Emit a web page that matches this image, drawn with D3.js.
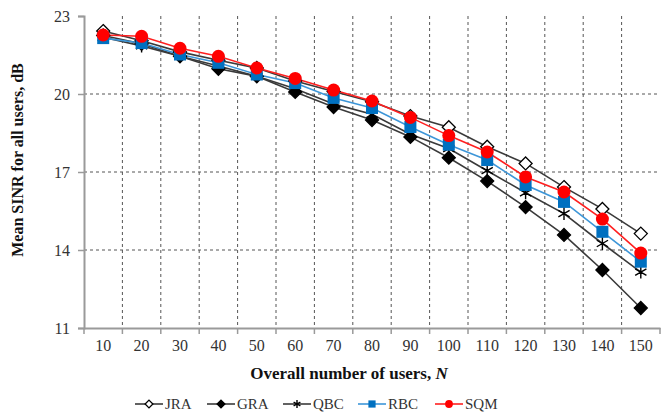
<!DOCTYPE html>
<html>
<head>
<meta charset="utf-8">
<script src="https://cdn.jsdelivr.net/npm/d3@7"></script>
<style>
  body { margin: 0; background: #fff; }
  svg text { font-family: "Liberation Serif", "Times New Roman", serif; }
</style>
</head>
<body>
<svg id="chart" width="661" height="415"></svg>
<script>
// x categories: overall number of users N
var users = [10, 20, 30, 40, 50, 60, 70, 80, 90, 100, 110, 120, 130, 140, 150];
var yTicks = [11, 14, 17, 20, 23];

// mean SINR, dB
var jra = [22.42, 22.05, 21.62, 21.3, 21.0, 20.5, 20.1, 19.7, 19.15, 18.72, 17.97, 17.33, 16.42, 15.58, 14.63];
var gra = [22.25, 21.93, 21.45, 20.97, 20.68, 20.08, 19.5, 19.0, 18.35, 17.55, 16.65, 15.65, 14.58, 13.23, 11.77];
var qbc = [22.18, 21.85, 21.45, 21.08, 20.68, 20.2, 19.62, 19.22, 18.45, 17.9, 17.05, 16.2, 15.4, 14.25, 13.15];
var rbc = [22.15, 21.96, 21.52, 21.2, 20.75, 20.42, 19.85, 19.46, 18.73, 18.05, 17.46, 16.5, 15.85, 14.7, 13.55];
var sqm = [22.27, 22.22, 21.76, 21.45, 21.0, 20.6, 20.15, 19.73, 19.1, 18.4, 17.77, 16.81, 16.23, 15.19, 13.88];

var seriesNames = ['JRA', 'GRA', 'QBC', 'RBC', 'SQM'];

var series = [
    {name: seriesNames[0], values: jra, line: '#3a3a3a', marker: 'diamondOpen'},
    {name: seriesNames[1], values: gra, line: '#3a3a3a', marker: 'diamond'},
    {name: seriesNames[2], values: qbc, line: '#3a3a3a', marker: 'star'},
    {name: seriesNames[3], values: rbc, line: '#3d96d8', marker: 'square'},
    {name: seriesNames[4], values: sqm, line: '#ff2020', marker: 'circle'}
];

var svg = d3.select('#chart');
// note: "top" is a reserved window property, so use plot* names
var plotLeft = 84, plotRight = 660, plotTop = 16, plotBottom = 328;

var x = d3.scaleBand().domain(users).range([plotLeft, plotRight]);
var y = d3.scaleLinear().domain([11, 23]).range([plotBottom, plotTop]);

// grid
var grid = svg.append('g');
grid.selectAll('.hg').data([14, 17, 20]).enter().append('line')
    .attr('x1', plotLeft).attr('x2', plotRight)
    .attr('y1', function(d) { return y(d); }).attr('y2', function(d) { return y(d); })
    .style('stroke', '#555').style('stroke-width', 1).style('stroke-dasharray', '3,3');
grid.selectAll('.vg').data(users.slice(1)).enter().append('line')
    .attr('x1', function(d) { return x(d); }).attr('x2', function(d) { return x(d); })
    .attr('y1', plotTop).attr('y2', plotBottom)
    .style('stroke', '#555').style('stroke-width', 1).style('stroke-dasharray', '3,3');

// axes
var yAxis = d3.axisLeft(y).tickValues(yTicks).tickSize(6).tickPadding(8).tickFormat(d3.format('d'));
var gy = svg.append('g').attr('transform', 'translate(' + plotLeft + ',0)').call(yAxis);
gy.select('.domain').style('stroke', '#9a9a9a').style('stroke-width', 2);
gy.selectAll('.tick line').style('stroke', '#9a9a9a').style('stroke-width', 1.5);
gy.selectAll('.tick text').style('font-size', '16px').style('fill', '#333')
    .style('font-family', '"Liberation Serif", serif');

var xAxis = d3.axisBottom(x).tickSize(0).tickPadding(12);
var gx = svg.append('g').attr('transform', 'translate(0,' + plotBottom + ')').call(xAxis);
gx.select('.domain').style('stroke', '#9a9a9a').style('stroke-width', 2);
gx.selectAll('.tick text').style('font-size', '16px').style('fill', '#333')
    .style('font-family', '"Liberation Serif", serif');
gx.selectAll('.bt').data(users.concat(['end'])).enter().append('line')
    .attr('x1', function(d, i) { return plotLeft + i * x.step(); })
    .attr('x2', function(d, i) { return plotLeft + i * x.step(); })
    .attr('y1', 0).attr('y2', 6)
    .style('stroke', '#9a9a9a').style('stroke-width', 1.5);

// axis titles
svg.append('text')
    .attr('transform', 'translate(23,160) rotate(-90)')
    .attr('text-anchor', 'middle')
    .style('font-size', '16px').style('font-weight', 'bold').style('fill', '#111')
    .text('Mean SINR for all users, dB');

var xt = svg.append('text')
    .attr('x', 349).attr('y', 379)
    .attr('text-anchor', 'middle')
    .style('font-size', '17px').style('font-weight', 'bold').style('fill', '#111');
xt.append('tspan').text('Overall number of users, ');
xt.append('tspan').style('font-style', 'italic').text('N');

// markers
function drawMarker(g, type, cx, cy, scale) {
    scale = scale || 1;
    if (type == 'diamondOpen' || type == 'diamond') {
        var s = 6.5 * scale;
        g.append('path')
            .attr('d', 'M' + cx + ',' + (cy - s) + 'L' + (cx + s) + ',' + cy + 'L' + cx + ',' + (cy + s) + 'L' + (cx - s) + ',' + cy + 'Z')
            .style('fill', type == 'diamond' ? '#000' : '#fff')
            .style('stroke', '#000').style('stroke-width', 1.3);
    } else if (type == 'star') {
        var r = 6.5 * scale;
        var p = '';
        [90, 210, 330, 30, 150, 270].forEach(function(a) {
            var rad = a * Math.PI / 180;
            p += 'M' + cx + ',' + cy + 'L' + (cx + r * Math.cos(rad)) + ',' + (cy + r * Math.sin(rad));
        });
        g.append('path').attr('d', p).style('stroke', '#000').style('stroke-width', 1.4).style('fill', 'none');
    } else if (type == 'square') {
        var h = 6 * scale;
        g.append('rect').attr('x', cx - h).attr('y', cy - h).attr('width', 2 * h).attr('height', 2 * h)
            .style('fill', '#0070c0');
    } else if (type == 'circle') {
        g.append('circle').attr('cx', cx).attr('cy', cy).attr('r', 6.5 * scale).style('fill', '#ff0000');
    }
}

var line = d3.line()
    .x(function(d, i) { return x(users[i]) + x.bandwidth() / 2; })
    .y(function(d) { return y(d); });

series.forEach(function(s) {
    svg.append('path').datum(s.values)
        .attr('d', line)
        .style('fill', 'none').style('stroke', s.line).style('stroke-width', 1.6);
});
series.forEach(function(s) {
    var g = svg.append('g');
    s.values.forEach(function(v, i) {
        drawMarker(g, s.marker, x(users[i]) + x.bandwidth() / 2, y(v));
    });
});

// legend
var legendX = [135, 207, 283, 358, 435];
var legend = svg.append('g');
series.forEach(function(s, i) {
    var lx = legendX[i], ly = 404;
    legend.append('line').attr('x1', lx).attr('x2', lx + 28).attr('y1', ly).attr('y2', ly)
        .style('stroke', s.line).style('stroke-width', 1.6);
    drawMarker(legend, s.marker, lx + 14, ly, 0.6);
    legend.append('text').attr('x', lx + 30).attr('y', ly + 5)
        .style('font-size', '15px').style('fill', '#333').text(s.name);
});
</script>
</body>
</html>
